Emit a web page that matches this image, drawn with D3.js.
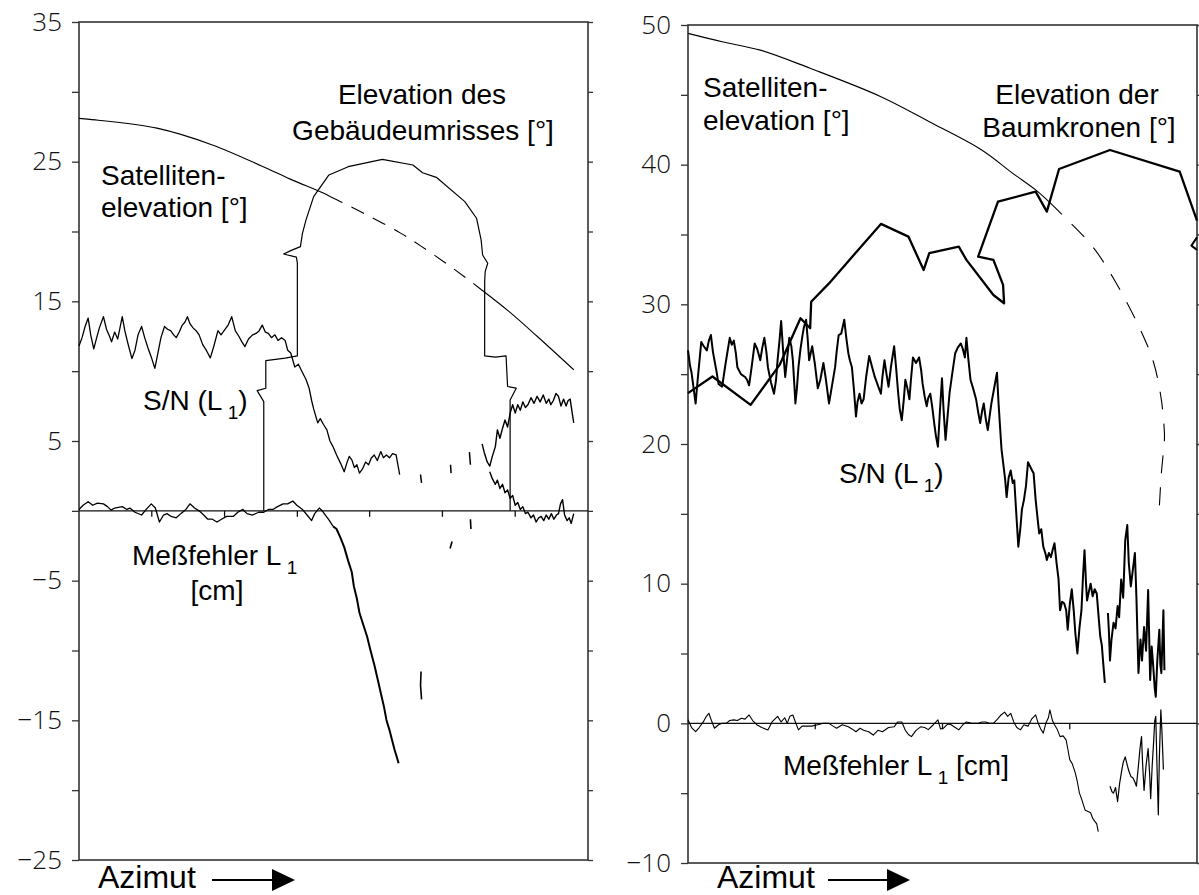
<!DOCTYPE html>
<html>
<head>
<meta charset="utf-8">
<script src="https://cdn.jsdelivr.net/npm/d3@7"></script>
<style>
  body { margin: 0; background: #fff; }
  svg { display: block; }
  .lbl { font-family: "Liberation Sans", Arial, sans-serif; font-size: 28px; fill: #000; }
  .tick text { font-family: "Open Sans", "DejaVu Sans", sans-serif; font-weight: 300; font-size: 26px; fill: #111; }
</style>
</head>
<body>
<svg id="chart" width="1199" height="895"></svg>
<script>
// ---- left panel data (x = azimuth, arbitrary 0..100) ----
var satL = [[0,28.1],[2.2,28.03],[15.3,27.4],[26.2,26.2],[36.2,24.64],[41.5,23.75],[48.0,22.75],[49.3,22.5],[51.3,22.15],[57.0,21.1],[63.1,19.9],[67.2,18.95],[72.0,17.75],[76.3,16.6],[79.0,15.85],[84.4,14.3],[90.0,12.5],[97.2,10.1]];
var satLHidden = [49.3, 79.0];

var bldL = [[36.3,0],[36.3,7.82],[35.0,8.61],[36.7,8.78],[36.7,10.75],[40.5,10.93],[42.9,11.09],[42.9,17.73],[42.7,18.16],[40.2,18.39],[41.6,18.63],[43.5,18.92],[43.9,19.87],[44.6,20.83],[46.1,22.5],[49.1,24.05],[52.9,24.64],[59.6,25.17],[65.6,24.76],[67.5,24.21],[70.2,23.88],[75.8,22.14],[78.1,20.95],[79.0,19.4],[79.3,18.32],[80.3,17.73],[79.8,17.13],[79.7,16.41],[79.7,11.09],[81.8,11.0],[83.9,11.09],[84.2,8.9],[85.9,8.78],[84.7,7.94],[84.7,0]];

var snL = [[0,11.8],[0.6,12.4],[1.2,13.2],[1.8,13.8],[2.3,12.6],[2.9,11.6],[3.4,12.3],[4.0,13.1],[4.8,13.9],[5.4,13.0],[6.0,12.5],[6.4,12.1],[7.0,12.8],[7.6,12.3],[8.5,13.9],[9.0,12.9],[9.6,12.0],[10.4,10.9],[11.0,11.5],[11.6,12.6],[12.3,13.2],[12.9,12.4],[13.6,11.6],[14.3,10.9],[14.9,10.2],[15.5,11.3],[16.1,12.4],[16.8,13.2],[17.4,13.0],[18.0,12.9],[18.6,12.6],[19.1,12.4],[19.7,12.8],[20.3,13.3],[20.8,13.5],[21.3,13.9],[21.8,13.4],[22.4,13.1],[23.0,12.9],[23.6,12.6],[24.3,11.9],[25.0,11.5],[25.8,10.95],[26.5,11.8],[27.3,12.9],[27.9,12.6],[28.5,12.9],[29.3,13.3],[30.0,13.9],[30.7,12.9],[31.4,12.5],[32.0,12.1],[32.6,11.76],[33.3,12.3],[34.1,12.6],[34.8,12.7],[35.4,12.9],[36.0,13.3],[36.6,12.8],[37.2,12.7],[37.8,12.4],[38.5,12.6],[39.1,12.2],[39.8,12.4],[40.5,12.2],[41.0,11.5],[41.6,11.3],[42.4,10.3],[43.1,10.5],[43.9,9.9],[44.6,9.4],[45.2,8.8],[45.7,7.9],[46.1,7.3],[46.9,6.3],[47.4,6.6],[48.0,6.2],[48.7,5.8],[49.3,5.0],[49.9,4.6],[50.6,4.0],[51.4,3.4],[52.1,2.8],[52.6,3.4],[53.1,3.9],[53.6,3.65],[54.1,3.1],[54.6,3.3],[55.1,2.7],[55.7,3.0],[56.3,3.5],[56.9,3.3],[57.4,3.77],[58.0,4.0],[58.6,3.6],[59.3,4.24],[59.8,3.8],[60.4,4.0],[61.0,3.8],[61.6,4.1],[62.3,4.0],[63.0,2.6]];
var snLBits = [[[67.1,2.6],[67.3,2.0]],[[73.0,3.3],[73.1,2.7]],[[76.7,4.2],[76.9,3.3]]];
var snL2 = [[79.2,4.8],[79.6,4.2],[80.2,3.5],[80.7,3.2],[81.2,3.9],[81.8,4.6],[82.2,5.8],[82.7,5.2],[83.2,5.9],[83.7,6.5],[84.2,6.0],[84.7,7.0],[85.2,7.6],[85.7,7.0],[86.2,7.6],[86.7,7.2],[87.2,7.8],[87.7,7.4],[88.2,7.6],[88.8,8.1],[89.4,7.7],[90.0,8.2],[90.6,7.8],[91.2,8.3],[91.8,7.7],[92.3,8.0],[92.7,7.6],[93.2,7.9],[93.7,8.4],[94.2,8.2],[94.7,7.5],[95.2,8.0],[95.7,7.5],[96.1,7.9],[96.5,8.0],[96.9,7.0],[97.2,6.3]];

var mfL = [[0,0.1],[0.8,0.4],[1.8,0.65],[2.7,0.4],[3.6,0.55],[4.8,0.5],[5.6,0.3],[6.3,0.05],[7.0,0.2],[8.5,0.3],[9.4,0.1],[10.0,0.2],[11.0,-0.1],[12.3,-0.3],[13.2,0.1],[14.2,0.5],[15.0,0.2],[15.8,-0.8],[16.6,-0.3],[17.3,-0.2],[18.1,-0.4],[19.1,-0.5],[20.0,-0.2],[21.0,0.1],[21.8,0.5],[22.7,0.2],[23.6,0.0],[24.5,-0.3],[25.3,-0.6],[26.2,-0.6],[27.1,-0.8],[28.0,-0.6],[29.0,-0.4],[30.3,-0.4],[31.2,-0.1],[32.2,0.1],[33.0,-0.2],[34.1,-0.3],[35.3,-0.1],[36.3,-0.1],[37.2,0.1],[38.1,0.1],[39.0,0.3],[40.1,0.5],[41.0,0.5],[42.0,0.7],[42.8,0.4],[43.9,0.1],[44.8,-0.3],[45.7,-0.7],[46.3,-0.2],[47.2,0.2],[47.8,0.0],[48.4,-0.3],[49.0,-0.6],[49.9,-1.1],[50.6,-1.3],[51.4,-1.96],[52.1,-2.6],[52.9,-3.6],[53.6,-4.4],[54.0,-5.4],[54.6,-6.3],[55.1,-7.3],[55.8,-8.1],[56.6,-9.0],[57.2,-9.9],[58.1,-11.15],[58.7,-12.1],[59.3,-13.06],[59.9,-14.0],[60.4,-14.97],[61.0,-15.7],[61.5,-16.4],[62.0,-17.1],[62.8,-18.07]];
var mfLBits = [[[67.2,-11.5],[67.1,-12.5],[67.3,-13.5]],[[72.9,-2.7],[73.3,-2.2]],[[76.9,-0.6],[77.0,-1.3]]];
var mfL2 = [[80.7,2.8],[81.2,2.3],[81.8,1.9],[82.2,2.2],[82.7,1.6],[83.2,1.9],[83.7,1.3],[84.2,1.5],[84.7,0.9],[85.2,1.1],[85.7,0.4],[86.2,0.6],[86.7,0.1],[87.2,0.3],[87.7,-0.2],[88.2,-0.1],[88.8,-0.5],[89.3,-0.3],[89.8,-0.8],[90.3,-0.5],[90.8,-0.4],[91.3,-0.7],[91.8,-0.3],[92.3,-0.6],[92.8,-0.2],[93.3,-0.6],[93.8,-0.3],[94.2,-0.2],[94.6,0.5],[95.0,0.8],[95.4,-0.3],[95.9,-0.7],[96.3,-0.5],[96.7,-0.9],[97.2,-0.2]];

// ---- right panel data ----
var satR = [[0,49.4],[6.7,48.8],[14.2,48.2],[24.0,46.9],[37.9,44.87],[48.0,42.96],[57.7,41.05],[63.8,39.38],[68.3,38.19],[70.9,37.35],[73.9,36.28],[79.5,34.13],[84.0,31.6],[88.9,28.17],[91.5,25.8],[93.0,23.16],[93.6,20.8],[93.6,20.3],[93.0,17.9],[92.6,15.5]];
var satRHiddenFrom = 70.9;

var treeR = [[0,23.64],[4.8,24.83],[12.3,22.8],[18.0,25.66],[22.1,29.0],[24.0,28.29],[24.2,30.19],[27.7,31.5],[37.9,35.76],[43.3,34.85],[46.3,32.46],[47.4,33.66],[53.2,34.13],[54.7,33.18],[60.0,30.67],[62.1,30.08],[61.9,31.39],[60.0,33.18],[57.0,33.41],[60.9,37.35],[68.3,38.07],[70.5,36.64],[72.9,39.69],[82.9,41.05],[96.6,39.5],[100,36.0]];
var treeRBit = [[100,34.8],[98.9,34.2],[100,33.9]];

var snR = [[0,26.7],[0.4,25.6],[0.7,25.1],[1.1,24.0],[1.5,22.9],[1.9,24.6],[2.6,27.3],[3.1,27.0],[3.7,26.7],[4.1,27.4],[4.5,27.8],[4.9,26.6],[5.2,26.0],[5.6,25.2],[6.0,24.3],[6.7,24.1],[7.4,25.8],[8.2,27.6],[8.6,27.1],[9.0,27.4],[9.4,26.5],[9.7,25.5],[10.4,25.0],[11.2,24.8],[11.6,24.6],[12.0,24.2],[12.5,25.5],[13.1,27.2],[13.6,26.8],[14.2,26.0],[14.6,26.9],[15.0,27.6],[15.4,26.6],[15.7,25.5],[16.3,24.4],[16.9,23.6],[17.3,24.6],[17.6,26.0],[18.0,27.5],[18.3,28.8],[18.7,26.6],[19.1,24.8],[19.5,26.2],[19.9,27.6],[20.3,27.0],[20.6,26.0],[20.9,24.2],[21.1,22.9],[21.4,24.0],[21.7,25.5],[22.1,26.8],[22.5,27.8],[22.8,28.4],[23.2,28.9],[23.5,27.6],[23.8,26.0],[24.1,26.5],[24.4,27.0],[24.9,25.8],[25.5,24.0],[26.0,24.6],[26.6,25.8],[27.1,24.6],[27.7,22.9],[28.3,24.2],[28.9,25.5],[29.2,26.6],[29.6,27.8],[30.1,27.9],[30.7,28.9],[31.1,27.6],[31.5,26.5],[31.8,26.0],[32.2,25.5],[32.6,23.9],[33.0,21.97],[33.3,23.0],[33.7,23.6],[34.1,22.9],[34.5,23.2],[35.0,24.8],[35.6,26.3],[36.1,25.6],[36.7,24.8],[37.3,24.2],[37.9,23.6],[38.2,24.8],[38.6,26.0],[39.0,25.0],[39.4,24.1],[39.9,25.6],[40.5,27.0],[40.9,25.4],[41.3,23.6],[41.6,22.5],[42.0,21.7],[42.4,23.2],[42.7,24.6],[43.1,24.0],[43.5,23.2],[43.8,24.6],[44.2,26.2],[44.8,25.8],[45.4,26.2],[45.8,25.3],[46.1,24.3],[46.5,23.4],[46.9,22.7],[47.2,23.3],[47.6,23.6],[48.0,22.6],[48.4,21.4],[48.7,20.6],[49.1,19.8],[49.5,22.4],[49.9,24.7],[50.2,22.5],[50.6,20.3],[51.0,22.0],[51.4,23.7],[51.9,25.0],[52.5,26.5],[53.0,26.9],[53.6,27.2],[54.0,26.8],[54.4,26.2],[54.7,27.6],[55.1,26.0],[55.5,24.6],[56.0,24.0],[56.6,23.2],[57.0,22.3],[57.4,21.5],[57.8,22.4],[58.1,22.9],[58.5,21.8],[58.9,21.0],[59.3,22.1],[59.6,22.9],[60.2,24.1],[60.7,25.1],[61.0,23.0],[61.3,21.26],[61.6,19.6],[62.0,18.4],[62.3,17.5],[62.6,16.2],[63.0,17.6],[63.4,18.1],[63.8,17.2],[64.1,17.4],[64.5,15.0],[64.9,12.65],[65.3,14.0],[65.6,15.3],[66.0,16.0],[66.4,17.0],[66.8,18.7],[67.2,18.4],[67.6,18.1],[67.9,17.9],[68.3,16.0],[68.7,14.6],[69.0,13.6],[69.4,13.9],[69.8,12.65],[70.2,12.2],[70.5,11.7],[70.9,12.2],[71.3,11.9],[71.7,12.5],[72.0,12.9],[72.4,11.5],[72.8,10.3],[73.1,8.1],[73.5,8.7],[73.9,8.6],[74.3,8.1],[74.6,6.7],[75.0,8.5],[75.4,9.6],[75.8,8.0],[76.1,6.45],[76.5,5.0],[76.9,6.8],[77.3,8.1],[77.6,10.5],[77.9,12.4],[78.2,10.0],[78.4,8.8],[78.8,9.5],[79.1,10.0],[79.5,9.1],[79.9,9.6],[80.3,9.3],[80.7,7.5],[81.0,6.2],[81.3,5.6],[81.6,4.2],[81.9,2.9]];
var snR2 = [[82.5,7.9],[82.7,6.5],[82.9,4.5],[83.2,6.0],[83.6,7.2],[84.0,6.8],[84.4,8.4],[84.7,7.6],[85.1,10.3],[85.5,9.0],[85.9,13.1],[86.3,14.2],[86.6,11.5],[87.0,9.8],[87.4,11.0],[87.8,12.2],[88.1,9.0],[88.5,3.6],[88.9,6.0],[89.2,4.5],[89.6,6.9],[90.0,5.2],[90.4,9.55],[90.8,3.1],[91.1,5.5],[91.4,4.1],[91.7,2.5],[91.9,1.9],[92.2,4.5],[92.6,6.7],[92.8,4.2],[93.0,3.6],[93.2,5.8],[93.4,8.1],[93.6,3.8]];

var mfR = [[0,0.25],[0.7,-0.3],[1.5,-0.6],[2.2,-0.3],[3.0,0.1],[3.6,0.5],[4.1,0.72],[4.6,0.2],[5.2,-0.35],[6.0,-0.1],[6.7,0.0],[7.5,0.0],[8.2,0.2],[9.0,0.25],[9.7,0.2],[10.5,0.36],[11.2,0.3],[12.0,0.6],[12.7,0.2],[13.5,-0.1],[14.5,-0.3],[15.7,-0.47],[16.5,0.1],[17.6,0.5],[18.3,0.1],[19.0,0.4],[19.5,0.0],[20.0,0.5],[20.6,0.6],[21.1,0.1],[21.7,-0.47],[22.4,-0.2],[23.2,-0.2],[24.3,-0.2],[25.5,-0.1],[26.6,0.0],[27.7,0.0],[28.5,-0.2],[29.2,-0.35],[30.3,-0.1],[31.5,-0.25],[32.2,-0.4],[33.0,-0.6],[33.8,-0.35],[34.5,-0.5],[35.5,-0.6],[36.4,-0.84],[37.3,-0.5],[38.2,-0.6],[39.4,-0.3],[40.5,-0.25],[41.2,0.1],[42.0,0.1],[42.7,-0.5],[43.3,-0.8],[43.9,-0.95],[44.8,-0.5],[45.7,-0.25],[46.5,-0.3],[47.2,-0.45],[48.2,-0.1],[49.1,0.25],[49.6,-0.4],[50.2,-0.35],[51.0,-0.05],[51.7,-0.1],[52.5,-0.3],[53.2,-0.47],[54.0,-0.1],[54.7,0.1],[55.8,0.0],[57.0,0.0],[57.8,0.1],[58.5,0.1],[59.2,0.0],[60.0,0.0],[60.8,0.3],[61.5,0.6],[62.2,0.8],[62.8,0.5],[63.4,0.72],[64.0,0.1],[64.6,-0.3],[65.3,-0.47],[66.0,-0.1],[66.8,-0.2],[67.5,0.3],[68.3,0.6],[68.8,0.0],[69.3,-0.4],[69.8,-0.7],[70.3,0.0],[70.8,0.4],[71.1,0.96],[71.6,0.2],[72.0,-0.1],[72.5,-0.4],[73.1,-0.95],[73.7,-0.9],[74.3,-1.2],[74.7,-2.0],[75.0,-2.6],[75.5,-2.9],[76.1,-3.57],[76.5,-4.2],[76.9,-5.0],[77.4,-5.5],[78.0,-6.2],[78.5,-6.3],[79.1,-6.4],[79.5,-6.8],[79.9,-7.0],[80.3,-7.2],[80.6,-7.75]];
var mfR2 = [[82.9,-4.5],[83.3,-4.9],[83.6,-5.0],[84.0,-4.6],[84.4,-5.6],[84.8,-4.3],[85.2,-3.4],[85.5,-2.8],[85.9,-2.4],[86.3,-3.0],[86.6,-3.4],[87.0,-3.8],[87.4,-3.9],[87.8,-4.2],[88.1,-4.5],[88.5,-3.0],[88.8,-1.8],[89.1,-0.95],[89.3,-2.8],[89.6,-4.8],[90.0,-3.0],[90.4,-1.8],[90.7,-3.7],[90.9,-5.4],[91.2,-3.0],[91.5,-1.2],[91.7,0.2],[91.9,0.5],[92.1,-2.5],[92.4,-6.55],[92.6,-2.5],[92.9,0.96],[93.1,-0.5],[93.4,-3.3]];

// axis ticks
var ticksL = d3.range(-25, 36, 5), labelsL = [-25, -15, -5, 5, 15, 25, 35];
var ticksR = d3.range(-10, 51, 5), labelsR = [-10, 0, 10, 20, 30, 40, 50];
var zeroTicksL = [14.3, 28.6, 42.9, 57.1, 71.4, 85.7];
var zeroTicksR = [25, 50, 75];

var svg = d3.select("#chart");

function panel(box, yDom, ticks, labels, zeroTicks) {
  var g = svg.append("g");
  var x = d3.scaleLinear().domain([0, 100]).range([box.x0, box.x1]);
  var y = d3.scaleLinear().domain(yDom).range([box.y1, box.y0]);

  g.append("g")
    .attr("transform", "translate(" + box.x0 + ",0)")
    .call(d3.axisLeft(y).tickValues(ticks).tickSize(7).tickPadding(10)
      .tickFormat(function(d){ return labels.indexOf(d) >= 0 ? d3.format("")(d) : ""; }))
    .call(function(a){ a.select(".domain").remove(); a.selectAll("line").attr("stroke", "#333").attr("stroke-width", 1.3); });

  g.append("g")
    .attr("transform", "translate(" + box.x1 + ",0)")
    .call(d3.axisRight(y).tickValues(ticks).tickSize(5).tickFormat(""))
    .call(function(a){ a.select(".domain").remove(); a.selectAll("line").attr("stroke", "#333").attr("stroke-width", 1.3); });

  g.append("rect")
    .attr("x", box.x0).attr("y", box.y0)
    .attr("width", box.x1 - box.x0).attr("height", box.y1 - box.y0)
    .attr("fill", "none").attr("stroke", "#333").attr("stroke-width", 1.6);

  // zero line with small ticks
  g.append("line")
    .attr("x1", box.x0).attr("x2", box.x1)
    .attr("y1", y(0)).attr("y2", y(0))
    .attr("stroke", "#111").attr("stroke-width", 1.4);
  g.selectAll(".zt").data(zeroTicks).enter().append("line")
    .attr("x1", function(d){ return x(d); }).attr("x2", function(d){ return x(d); })
    .attr("y1", y(0)).attr("y2", y(0) + 6)
    .attr("stroke", "#111").attr("stroke-width", 1.3);

  return { g: g, x: x, y: y };
}

function draw(p, pts, w, dash, defined, curve) {
  var line = d3.line().x(function(d){ return p.x(d[0]); }).y(function(d){ return p.y(d[1]); });
  if (defined) line.defined(defined);
  if (curve) line.curve(curve);
  p.g.append("path")
    .attr("d", line(pts))
    .attr("fill", "none")
    .attr("stroke", "#000")
    .attr("stroke-width", w)
    .attr("stroke-linejoin", "round")
    .attr("stroke-dasharray", dash || null);
}

function azimut(x0, arrowX1, arrowX2) {
  svg.append("text").attr("class", "lbl").attr("x", x0).attr("y", 888)
    .style("font-size", "32px").text("Azimut");
  svg.append("line").attr("x1", arrowX1).attr("x2", arrowX2 - 22)
    .attr("y1", 880).attr("y2", 880).attr("stroke", "#000").attr("stroke-width", 2);
  svg.append("path")
    .attr("d", "M" + (arrowX2 - 23) + ",869 L" + arrowX2 + ",880 L" + (arrowX2 - 23) + ",891 Z")
    .attr("fill", "#000");
}

function label(x, y, txt, anchor) {
  return svg.append("text").attr("class", "lbl").attr("x", x).attr("y", y)
    .attr("text-anchor", anchor || "start").text(txt);
}

function subLabel(x, y, before, after, anchor) {
  var t = svg.append("text").attr("class", "lbl").attr("x", x).attr("y", y)
    .attr("text-anchor", anchor || "start");
  t.append("tspan").text(before);
  t.append("tspan").attr("dy", 9).style("font-size", "19px").text("\u00a01");
  if (after) t.append("tspan").attr("dy", -9).text(after);
  return t;
}

var smooth = d3.curveCatmullRom.alpha(0.5);

// ---------- left panel ----------
var L = panel({ x0: 79, x1: 588, y0: 22, y1: 860 }, [-25, 35], ticksL, labelsL, zeroTicksL);
draw(L, satL, 1.1, null, function(d){ return d[0] <= satLHidden[0]; }, smooth);
draw(L, satL, 1.1, null, function(d){ return d[0] >= satLHidden[1]; }, smooth);
draw(L, satL, 1.1, "14,10", function(d){ return d[0] >= satLHidden[0] && d[0] <= satLHidden[1]; }, smooth);
draw(L, bldL, 1.2);
draw(L, snL, 1.3);
snLBits.forEach(function(b){ draw(L, b, 1.5); });
draw(L, snL2, 1.4);
draw(L, mfL.filter(function(d){ return d[0] <= 49.9; }), 1.3);
draw(L, mfL.filter(function(d){ return d[0] >= 49.9; }), 2);
mfLBits.forEach(function(b){ draw(L, b, 1.6); });
draw(L, mfL2, 1.4);

label(422, 104, "Elevation des", "middle");
label(423, 140, "Gebäudeumrisses [°]", "middle");
label(101, 185, "Satelliten-");
label(101, 217, "elevation [°]");
subLabel(143, 410, "S/N (L", ")");
subLabel(132, 565, "Meßfehler L", "");
label(217, 600, "[cm]", "middle");
azimut(98, 212, 295);

// ---------- right panel ----------
var R = panel({ x0: 688, x1: 1197, y0: 25, y1: 863 }, [-10, 50], ticksR, labelsR, zeroTicksR);
draw(R, satR, 1.1, null, function(d){ return d[0] <= satRHiddenFrom; }, smooth);
draw(R, satR, 1.1, "18,14", function(d){ return d[0] >= satRHiddenFrom; }, smooth);
draw(R, treeR, 2.3);
draw(R, treeRBit, 2);
draw(R, snR, 2);
draw(R, snR2, 2);
draw(R, mfR, 1.1);
draw(R, mfR2, 1.2);

label(703, 97, "Satelliten-");
label(703, 130, "elevation [°]");
label(1077, 104, "Elevation der", "middle");
label(1079, 137, "Baumkronen [°]", "middle");
subLabel(839, 483, "S/N (L", ")");
subLabel(783, 775, "Meßfehler L", " [cm]");
azimut(717, 828, 910);
</script>
</body>
</html>
